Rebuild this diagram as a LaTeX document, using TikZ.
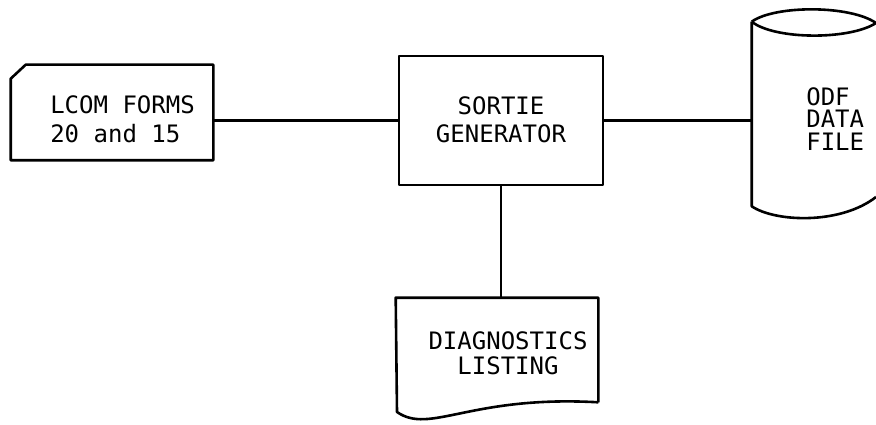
\documentclass[tikz,border=0pt]{standalone}
\usepackage{fontspec}
\setmonofont{DejaVu Sans Mono}
\begin{document}
\begin{tikzpicture}[x=1pt, y=-1pt, line width=2.6pt, line join=round,
        frame/.style={inner sep=0pt, minimum width=#1},
        lbl/.style={font=\ttfamily\fontsize{24}{28.5}\selectfont, inner sep=0pt}]
            \useasboundingbox (0,0) rectangle (876,425);
            \node[frame=200pt, minimum height=93pt] (card) at (112,112.5) {};
            \node[frame=204pt, minimum height=129pt, draw] (box) at (501,120.5) {};
            \node[frame=123pt, minimum height=182pt] (odf) at (814.5,114) {};
            \node[frame=200pt, minimum height=102pt] (diag) at (497,350) {};
            \node[lbl, align=left, anchor=west] (cardtxt) at (49,119.5) {LCOM FORMS\\20 and 15};
            \node[lbl, align=center] (boxtxt) at (501,120) {SORTIE\\GENERATOR};
            \node[lbl, align=left, anchor=west, font=\ttfamily\fontsize{24}{22.5}\selectfont] (odftxt) at (805,119) {ODF\\DATA\\FILE};
            \node[lbl, align=center, font=\ttfamily\fontsize{24}{25}\selectfont] (diagtxt) at (508,353.5) {DIAGNOSTICS\\LISTING};
            \draw ([yshift=-14]card.north west) -- ([xshift=15]card.north west) -- (card.north east)
                -- (card.south east) -- (card.south west) -- cycle;
            \draw (odf.north west) -- (odf.south west) .. controls (775,222) and (840,225) .. (876,197);
            \draw (odf.north west) .. controls (775,5) and (850,5) .. (876,23);
            \draw (odf.north west) .. controls (775,40) and (850,40) .. (876,23);
            \draw (diag.south east) -- (diag.north east) -- (diag.north west) -- (397,412)
                .. controls (430,435) and (470,395) .. (diag.south east);
            \draw (box.west) -- (box.west -| card.east);
            \draw (box.east) -- (box.east -| odf.west);
            \draw (box.south) -- (box.south |- diag.north);
        \end{tikzpicture}
\end{document}
